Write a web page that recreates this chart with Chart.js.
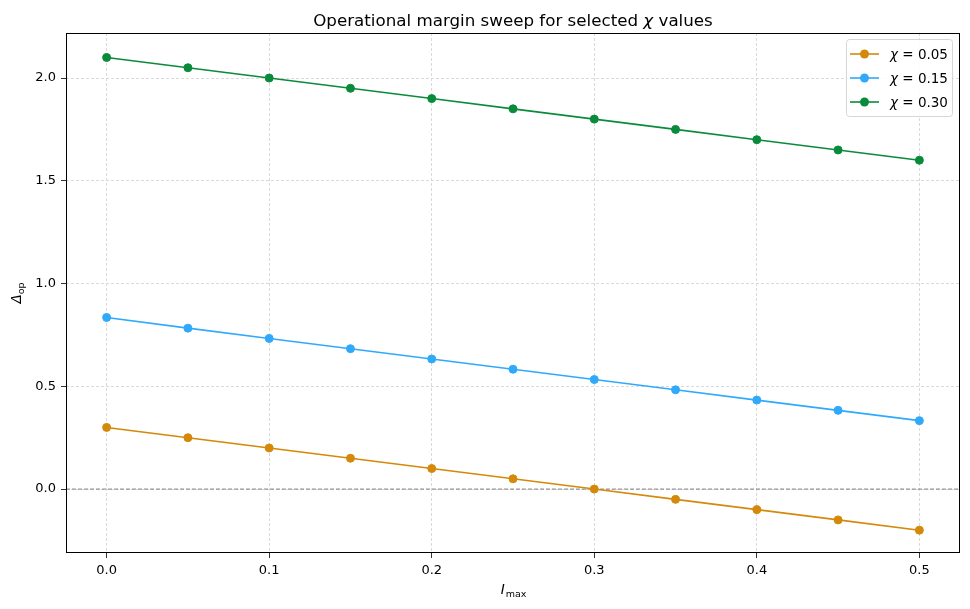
<!DOCTYPE html>
<html><head><meta charset="utf-8">
<script src="https://cdn.jsdelivr.net/npm/chart.js@4.4.0/dist/chart.umd.min.js"></script>
<style>html,body{margin:0;padding:0;background:#fff}#wrap{width:970px;height:609px}</style>
</head><body><div id="wrap"><canvas id="c" width="970" height="609"></canvas></div>
<script>
const iMax = [0.00,0.05,0.10,0.15,0.20,0.25,0.30,0.35,0.40,0.45,0.50];
const chi005 = [0.30,0.25,0.20,0.15,0.10,0.05,0.00,-0.05,-0.10,-0.15,-0.20];
const chi015 = [0.835,0.783,0.733,0.683,0.633,0.583,0.533,0.483,0.433,0.383,0.333];
const chi030 = [2.10,2.05,2.00,1.95,1.90,1.85,1.80,1.75,1.70,1.65,1.60];
const seriesLabels = ['0.05','0.15','0.30'];
const xTicks = [0.0,0.1,0.2,0.3,0.4,0.5];
const yTicks = [0.0,0.5,1.0,1.5,2.0];
const colors = ['#d4890a','#30a9fb','#0a8b3c'];
const FONT = "'DejaVu Sans', sans-serif";

const mk = (vals,i)=>({
  label:'χ = '+seriesLabels[i],
  data: iMax.map((x,k)=>({x, y: vals[k]})),
  borderColor: colors[i], backgroundColor: colors[i],
  pointBackgroundColor: colors[i], pointBorderColor: colors[i],
  borderWidth: 1.6, pointRadius: 4, pointBorderWidth: 1, pointHoverRadius: 4, tension: 0
});

const overlay = {
  id:'overlay',
  beforeDatasetsDraw(chart){
    const ctx = chart.ctx, a = chart.chartArea, y = chart.scales.y;
    const py = y.getPixelForValue(0);
    ctx.save();
    ctx.strokeStyle = '#808080'; ctx.lineWidth = 1; ctx.setLineDash([4,2]);
    ctx.beginPath(); ctx.moveTo(a.left, py); ctx.lineTo(a.right, py); ctx.stroke();
    ctx.restore();
  },
  afterDraw(chart){
    const ctx = chart.ctx, a = chart.chartArea;
    ctx.save();
    ctx.strokeStyle = '#000'; ctx.lineWidth = 1; ctx.setLineDash([]);
    ctx.strokeRect(a.left+0.5, a.top+0.5, a.right-a.left-1, a.bottom-a.top-1);
    ctx.fillStyle = '#000'; ctx.textBaseline = 'alphabetic';
    const cx = (a.left+a.right)/2;
    const TF = '16.7px ';
    const t1 = 'Operational margin sweep for selected ', t2 = 'χ', t3 = ' values';
    ctx.font = TF + FONT; const w1 = ctx.measureText(t1).width, w3 = ctx.measureText(t3).width;
    ctx.font = 'italic ' + TF + FONT; const w2 = ctx.measureText(t2).width;
    let sx = cx - (w1+w2+w3)/2; ctx.textAlign='left';
    ctx.font = TF + FONT; ctx.fillText(t1, sx, 26);
    ctx.font = 'italic ' + TF + FONT; ctx.fillText(t2, sx+w1, 26);
    ctx.font = TF + FONT; ctx.fillText(t3, sx+w1+w2, 26);
    ctx.font = 'italic 13.5px ' + FONT; const wi = ctx.measureText('I').width;
    ctx.font = '9.5px ' + FONT; const ws = ctx.measureText('max').width;
    let xx = cx - (wi+ws)/2;
    ctx.font = 'italic 13.5px ' + FONT; ctx.fillText('I', xx, 594);
    ctx.font = '9.5px ' + FONT; ctx.fillText('max', xx+wi+1, 597);
    ctx.translate(21, (a.top+a.bottom)/2); ctx.rotate(-Math.PI/2);
    ctx.font = 'italic 13.5px ' + FONT; const wd = ctx.measureText('Δ').width;
    ctx.font = '9.5px ' + FONT; const wo = ctx.measureText('op').width;
    let yx = -(wd+wo)/2;
    ctx.font = 'italic 13.5px ' + FONT; ctx.fillText('Δ', yx, 0);
    ctx.font = '9.5px ' + FONT; ctx.fillText('op', yx+wd, 3);
    ctx.restore();
    ctx.save();
    const lx = 846, ly = 39, lw = 106, lh = 77;
    ctx.fillStyle = 'rgba(255,255,255,0.85)'; ctx.strokeStyle = '#d6d6d6'; ctx.lineWidth = 1;
    ctx.beginPath(); ctx.roundRect(lx+0.5, ly+0.5, lw, lh, 3); ctx.fill(); ctx.stroke();
    chart.data.datasets.forEach((ds,i)=>{
      const ey = 54 + i*24;
      ctx.strokeStyle = ds.borderColor; ctx.lineWidth = 1.6;
      ctx.beginPath(); ctx.moveTo(850, ey); ctx.lineTo(879, ey); ctx.stroke();
      ctx.fillStyle = ds.borderColor; ctx.beginPath(); ctx.arc(864.5, ey, 4.5, 0, Math.PI*2); ctx.fill();
      ctx.fillStyle = '#000'; ctx.textBaseline = 'middle'; ctx.textAlign='left';
      ctx.font = 'italic 13.5px ' + FONT; ctx.fillText('χ', 890, ey+1);
      const wc = ctx.measureText('χ').width;
      ctx.font = '13.5px ' + FONT; ctx.fillText(' = ' + seriesLabels[i], 890+wc, ey+1);
    });
    ctx.restore();
  }
};

const gridOpts = { color:'#d0d0d0', lineWidth:0.8, tickColor:'#000', tickBorderDash:[], tickLength:5, drawTicks:true };

new Chart(document.getElementById('c'), {
  type:'line',
  data:{ datasets:[mk(chi005,0), mk(chi015,1), mk(chi030,2)] },
  options:{
    responsive:false, animation:false, devicePixelRatio:1,
    layout:{ padding:{ top:33, right:10, left:0, bottom:0 } },
    plugins:{ legend:{display:false}, title:{display:false}, tooltip:{enabled:false} },
    scales:{
      x:{ type:'linear', min:-0.025, max:0.525,
        afterBuildTicks(s){ s.ticks = xTicks.map(v=>({value:v})); },
        afterFit(s){ s.height = 56; },
        ticks:{ color:'#000', font:{family:FONT, size:13}, padding:5, maxRotation:0,
          callback:v=>Number(v).toFixed(1) },
        grid: gridOpts,
        border:{ display:false, dash:[3,2] }
      },
      y:{ type:'linear', min:-0.311, max:2.219,
        afterBuildTicks(s){ s.ticks = yTicks.map(v=>({value:v})); },
        afterFit(s){ s.width = 66; },
        ticks:{ color:'#000', font:{family:FONT, size:13}, padding:5,
          callback:v=>Number(v).toFixed(1) },
        grid: gridOpts,
        border:{ display:false, dash:[3,2] }
      }
    }
  },
  plugins:[overlay]
});
</script></body></html>
